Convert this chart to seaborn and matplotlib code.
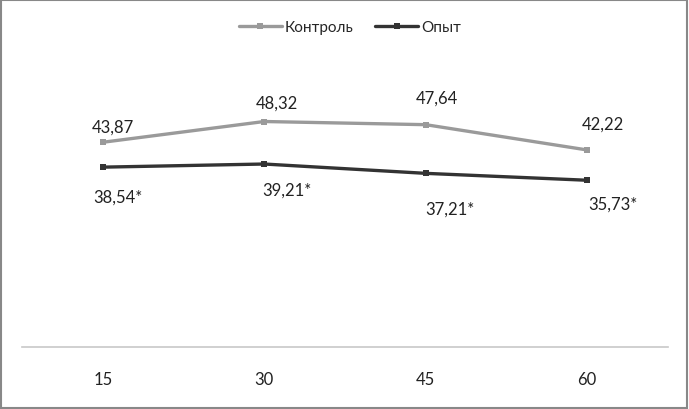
import numpy as np
import pandas as pd
import matplotlib.pyplot as plt
import seaborn as sns

# --- data ---
days = [15, 30, 45, 60]
control = [43.87, 48.32, 47.64, 42.22]
experiment = [38.54, 39.21, 37.21, 35.73]
control_labels = ["43,87", "48,32", "47,64", "42,22"]
experiment_labels = ["38,54*", "39,21*", "37,21*", "35,73*"]
series_names = ["Контроль", "Опыт"]

df = pd.DataFrame({
    "day": days * 2,
    "value": control + experiment,
    "group": [series_names[0]] * 4 + [series_names[1]] * 4,
})

sns.set_theme(style="white")
plt.rcParams['font.family'] = ['Lato', 'Noto Sans', 'DejaVu Sans']

fig = plt.figure(figsize=(6.89, 4.10), dpi=100)
ax = fig.add_axes([22 / 689, 62 / 410, 646 / 689, 280 / 410])

palette = {series_names[0]: "#9a9a9a", series_names[1]: "#333333"}
sns.lineplot(data=df, x="day", y="value", hue="group", palette=palette,
             marker="s", markersize=5, markeredgewidth=0, linewidth=2.4,
             ax=ax, legend=False)

ax.set_xlim(7.5, 67.5)
ax.set_ylim(0, 60)
ax.set_xticks(days)
ax.set_xticklabels([str(d) for d in days], fontsize=12, color="#222222")
ax.set_yticks([])
ax.set_xlabel("")
ax.set_ylabel("")
ax.tick_params(axis="x", length=0, pad=17)
for side in ["top", "right", "left"]:
    ax.spines[side].set_visible(False)
ax.spines["bottom"].set_color("#c8c8c8")
ax.spines["bottom"].set_linewidth(1.2)

# value labels (offsets in pixels)
ctrl_off = [(10, 16), (13, 19), (11, 27), (16, 26)]
exp_off = [(15, -29), (23, -26), (24, -35), (26, -23)]
for x, y, t, (dx, dy) in zip(days, control, control_labels, ctrl_off):
    ax.annotate(t, (x, y), xytext=(dx * 0.72, dy * 0.72), textcoords="offset points",
                ha="center", va="center", fontsize=12, color="#222222")
for x, y, t, (dx, dy) in zip(days, experiment, experiment_labels, exp_off):
    ax.annotate(t, (x, y), xytext=(dx * 0.72, dy * 0.72), textcoords="offset points",
                ha="center", va="center", fontsize=12, color="#222222")

# legend
handles = [plt.Line2D([], [], color=palette[n], linewidth=2.4, marker="s",
                      markersize=4, markeredgewidth=0) for n in series_names]
fig.legend(handles, series_names, loc="center", bbox_to_anchor=(350 / 689, 1 - 28 / 410),
           ncol=2, frameon=False, fontsize=11, handlelength=2.8, handletextpad=0.2,
           columnspacing=1.4)

# outer border
fig.patches.append(plt.Rectangle((0.002, 0.003), 0.995, 0.994, transform=fig.transFigure,
                                 fill=False, edgecolor="#888888", linewidth=1.5))

plt.savefig("out.png", dpi=100)
plt.close()
